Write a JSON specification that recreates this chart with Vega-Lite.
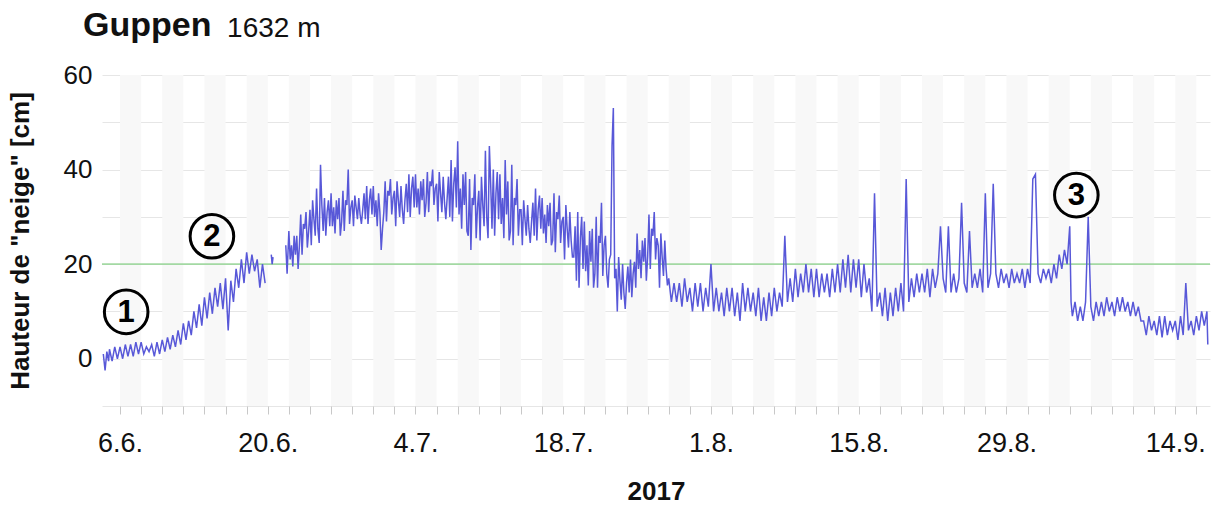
{
  "$schema": "https://vega.github.io/schema/vega-lite/v6.json",
  "width": 1108,
  "height": 331,
  "autosize": "none",
  "padding": {"left": 102, "top": 75, "right": 21, "bottom": 99},
  "background": "white",
  "config": {"font": "Liberation Sans", "view": {"stroke": null}},
  "title": {"text": "Guppen", "anchor": "start", "frame": "group", "fontSize": 34, "fontWeight": "bold", "color": "#111111", "dx": -19, "offset": -55, "baseline": "alphabetic"},
  "resolve": {"axis": {"x": "independent"}},
  "datasets": {
    "snow": [
      {"t":"2017-06-04T10:00","v":1},{"t":"2017-06-04T14:00","v":-2.5},{"t":"2017-06-04T18:00","v":1.5},{"t":"2017-06-04T22:00","v":-0.5},
      {"t":"2017-06-05T00:00","v":2},{"t":"2017-06-05T06:00","v":-0.5},{"t":"2017-06-05T12:00","v":2.5},{"t":"2017-06-05T18:00","v":0},
      {"t":"2017-06-06T00:00","v":2.5},{"t":"2017-06-06T06:00","v":0},{"t":"2017-06-06T12:00","v":3},{"t":"2017-06-06T18:00","v":0.5},
      {"t":"2017-06-07T00:00","v":3},{"t":"2017-06-07T06:00","v":0.5},{"t":"2017-06-07T12:00","v":3.5},{"t":"2017-06-07T18:00","v":1},
      {"t":"2017-06-08T00:00","v":3.5},{"t":"2017-06-08T06:00","v":1},{"t":"2017-06-08T12:00","v":2.5},{"t":"2017-06-08T18:00","v":1.5},
      {"t":"2017-06-09T00:00","v":3},{"t":"2017-06-09T06:00","v":0.5},{"t":"2017-06-09T12:00","v":3.5},{"t":"2017-06-09T18:00","v":1},
      {"t":"2017-06-10T00:00","v":4},{"t":"2017-06-10T06:00","v":1.5},{"t":"2017-06-10T12:00","v":4.5},{"t":"2017-06-10T18:00","v":2},
      {"t":"2017-06-11T00:00","v":5},{"t":"2017-06-11T06:00","v":2.5},{"t":"2017-06-11T12:00","v":6},{"t":"2017-06-11T18:00","v":3},
      {"t":"2017-06-12T00:00","v":7.5},{"t":"2017-06-12T06:00","v":4},{"t":"2017-06-12T12:00","v":8},{"t":"2017-06-12T18:00","v":5},
      {"t":"2017-06-13T00:00","v":10},{"t":"2017-06-13T06:00","v":6.5},{"t":"2017-06-13T12:00","v":11.5},{"t":"2017-06-13T18:00","v":7},
      {"t":"2017-06-14T00:00","v":13},{"t":"2017-06-14T06:00","v":8.5},{"t":"2017-06-14T12:00","v":14},{"t":"2017-06-14T18:00","v":9.5},
      {"t":"2017-06-15T00:00","v":15},{"t":"2017-06-15T06:00","v":11},{"t":"2017-06-15T12:00","v":16},{"t":"2017-06-15T18:00","v":10.5},
      {"t":"2017-06-16T00:00","v":17},{"t":"2017-06-16T06:00","v":6},{"t":"2017-06-16T12:00","v":16.5},{"t":"2017-06-16T18:00","v":12},
      {"t":"2017-06-17T00:00","v":19},{"t":"2017-06-17T06:00","v":15},{"t":"2017-06-17T12:00","v":21},{"t":"2017-06-17T18:00","v":16},
      {"t":"2017-06-18T00:00","v":22.5},{"t":"2017-06-18T06:00","v":18},{"t":"2017-06-18T12:00","v":22},{"t":"2017-06-18T18:00","v":18.5},
      {"t":"2017-06-19T00:00","v":21},{"t":"2017-06-19T06:00","v":15},{"t":"2017-06-19T12:00","v":20},{"t":"2017-06-19T18:00","v":16},
      {"t":"2017-06-20T00:00","v":null},{"t":"2017-06-20T08:00","v":22},{"t":"2017-06-20T10:00","v":20},{"t":"2017-06-20T12:00","v":21.5},{"t":"2017-06-20T14:00","v":null},
      {"t":"2017-06-21T17:00","v":24},{"t":"2017-06-21T20:00","v":18},
      {"t":"2017-06-22T00:00","v":27},{"t":"2017-06-22T03:00","v":21},{"t":"2017-06-22T06:00","v":24},{"t":"2017-06-22T09:00","v":19.5},{"t":"2017-06-22T12:00","v":26},{"t":"2017-06-22T15:00","v":22},{"t":"2017-06-22T18:00","v":26},{"t":"2017-06-22T21:00","v":19},
      {"t":"2017-06-23T00:00","v":24},{"t":"2017-06-23T03:00","v":30.5},{"t":"2017-06-23T06:00","v":22},{"t":"2017-06-23T09:00","v":28.5},{"t":"2017-06-23T12:00","v":27.5},{"t":"2017-06-23T15:00","v":31},{"t":"2017-06-23T18:00","v":23.5},{"t":"2017-06-23T21:00","v":27},
      {"t":"2017-06-24T00:00","v":31.5},{"t":"2017-06-24T03:00","v":24},{"t":"2017-06-24T06:00","v":33.5},{"t":"2017-06-24T09:00","v":29.5},{"t":"2017-06-24T12:00","v":26},{"t":"2017-06-24T15:00","v":36},{"t":"2017-06-24T18:00","v":27.5},{"t":"2017-06-24T21:00","v":24.5},
      {"t":"2017-06-25T00:00","v":41},{"t":"2017-06-25T03:00","v":32.5},{"t":"2017-06-25T06:00","v":27},{"t":"2017-06-25T09:00","v":34},{"t":"2017-06-25T12:00","v":26},{"t":"2017-06-25T15:00","v":31},{"t":"2017-06-25T18:00","v":33.5},{"t":"2017-06-25T21:00","v":28},
      {"t":"2017-06-26T00:00","v":35},{"t":"2017-06-26T03:00","v":28},{"t":"2017-06-26T06:00","v":32},{"t":"2017-06-26T09:00","v":26.5},{"t":"2017-06-26T12:00","v":33.5},{"t":"2017-06-26T15:00","v":29.5},{"t":"2017-06-26T18:00","v":34},{"t":"2017-06-26T21:00","v":26},
      {"t":"2017-06-27T00:00","v":29},{"t":"2017-06-27T03:00","v":35.5},{"t":"2017-06-27T06:00","v":27},{"t":"2017-06-27T09:00","v":33.5},{"t":"2017-06-27T12:00","v":32.5},{"t":"2017-06-27T15:00","v":40},{"t":"2017-06-27T18:00","v":28.5},{"t":"2017-06-27T21:00","v":32},
      {"t":"2017-06-28T00:00","v":33.5},{"t":"2017-06-28T03:00","v":28},{"t":"2017-06-28T06:00","v":34.5},{"t":"2017-06-28T09:00","v":32},{"t":"2017-06-28T12:00","v":29.5},{"t":"2017-06-28T15:00","v":34},{"t":"2017-06-28T18:00","v":30.5},{"t":"2017-06-28T21:00","v":28.5},
      {"t":"2017-06-29T00:00","v":31.5},{"t":"2017-06-29T03:00","v":35},{"t":"2017-06-29T06:00","v":29.5},{"t":"2017-06-29T09:00","v":36.5},{"t":"2017-06-29T12:00","v":28.5},{"t":"2017-06-29T15:00","v":33.5},{"t":"2017-06-29T18:00","v":36},{"t":"2017-06-29T21:00","v":30.5},
      {"t":"2017-06-30T00:00","v":36.5},{"t":"2017-06-30T03:00","v":30},{"t":"2017-06-30T06:00","v":33.5},{"t":"2017-06-30T09:00","v":28},{"t":"2017-06-30T12:00","v":35},{"t":"2017-06-30T15:00","v":31},{"t":"2017-06-30T18:00","v":23},{"t":"2017-06-30T21:00","v":27.5},
      {"t":"2017-07-01T00:00","v":31},{"t":"2017-07-01T03:00","v":37.5},{"t":"2017-07-01T06:00","v":29},{"t":"2017-07-01T09:00","v":35.5},{"t":"2017-07-01T12:00","v":34.5},{"t":"2017-07-01T15:00","v":38},{"t":"2017-07-01T18:00","v":30.5},{"t":"2017-07-01T21:00","v":34},
      {"t":"2017-07-02T00:00","v":35.5},{"t":"2017-07-02T03:00","v":28},{"t":"2017-07-02T06:00","v":37.5},{"t":"2017-07-02T09:00","v":33.5},{"t":"2017-07-02T12:00","v":30},{"t":"2017-07-02T15:00","v":36.5},{"t":"2017-07-02T18:00","v":31.5},{"t":"2017-07-02T21:00","v":28.5},
      {"t":"2017-07-03T00:00","v":33.5},{"t":"2017-07-03T03:00","v":37},{"t":"2017-07-03T06:00","v":31},{"t":"2017-07-03T09:00","v":39},{"t":"2017-07-03T12:00","v":30},{"t":"2017-07-03T15:00","v":36},{"t":"2017-07-03T18:00","v":38.5},{"t":"2017-07-03T21:00","v":32},
      {"t":"2017-07-04T00:00","v":39},{"t":"2017-07-04T03:00","v":32},{"t":"2017-07-04T06:00","v":36},{"t":"2017-07-04T09:00","v":30.5},{"t":"2017-07-04T12:00","v":37.5},{"t":"2017-07-04T15:00","v":33.5},{"t":"2017-07-04T18:00","v":38},{"t":"2017-07-04T21:00","v":30},
      {"t":"2017-07-05T00:00","v":33},{"t":"2017-07-05T03:00","v":39.5},{"t":"2017-07-05T06:00","v":31},{"t":"2017-07-05T09:00","v":37.5},{"t":"2017-07-05T12:00","v":36.5},{"t":"2017-07-05T15:00","v":40},{"t":"2017-07-05T18:00","v":32.5},{"t":"2017-07-05T21:00","v":36},
      {"t":"2017-07-06T00:00","v":37},{"t":"2017-07-06T03:00","v":29},{"t":"2017-07-06T06:00","v":39.5},{"t":"2017-07-06T09:00","v":35},{"t":"2017-07-06T12:00","v":31},{"t":"2017-07-06T15:00","v":38.5},{"t":"2017-07-06T18:00","v":33},{"t":"2017-07-06T21:00","v":29.5},
      {"t":"2017-07-07T00:00","v":34},{"t":"2017-07-07T03:00","v":38.5},{"t":"2017-07-07T06:00","v":30},{"t":"2017-07-07T09:00","v":42},{"t":"2017-07-07T12:00","v":29},{"t":"2017-07-07T15:00","v":37},{"t":"2017-07-07T18:00","v":40.5},{"t":"2017-07-07T21:00","v":32},
      {"t":"2017-07-08T00:00","v":46},{"t":"2017-07-08T03:00","v":30.5},{"t":"2017-07-08T06:00","v":36},{"t":"2017-07-08T09:00","v":27.5},{"t":"2017-07-08T12:00","v":39},{"t":"2017-07-08T15:00","v":32.5},{"t":"2017-07-08T18:00","v":39.5},{"t":"2017-07-08T21:00","v":27},
      {"t":"2017-07-09T00:00","v":26},{"t":"2017-07-09T03:00","v":38},{"t":"2017-07-09T06:00","v":23},{"t":"2017-07-09T09:00","v":34},{"t":"2017-07-09T12:00","v":32.5},{"t":"2017-07-09T15:00","v":39},{"t":"2017-07-09T18:00","v":25.5},{"t":"2017-07-09T21:00","v":32},
      {"t":"2017-07-10T00:00","v":35.5},{"t":"2017-07-10T03:00","v":25},{"t":"2017-07-10T06:00","v":38.5},{"t":"2017-07-10T09:00","v":32.5},{"t":"2017-07-10T12:00","v":28},{"t":"2017-07-10T15:00","v":44},{"t":"2017-07-10T18:00","v":30},{"t":"2017-07-10T21:00","v":25.5},
      {"t":"2017-07-11T00:00","v":45},{"t":"2017-07-11T03:00","v":37},{"t":"2017-07-11T06:00","v":27.5},{"t":"2017-07-11T09:00","v":40},{"t":"2017-07-11T12:00","v":26},{"t":"2017-07-11T15:00","v":35},{"t":"2017-07-11T18:00","v":39.5},{"t":"2017-07-11T21:00","v":29.5},
      {"t":"2017-07-12T00:00","v":39},{"t":"2017-07-12T03:00","v":28.5},{"t":"2017-07-12T06:00","v":34},{"t":"2017-07-12T09:00","v":25.5},{"t":"2017-07-12T12:00","v":42},{"t":"2017-07-12T15:00","v":30.5},{"t":"2017-07-12T18:00","v":37.5},{"t":"2017-07-12T21:00","v":25},
      {"t":"2017-07-13T00:00","v":27},{"t":"2017-07-13T03:00","v":41},{"t":"2017-07-13T06:00","v":24},{"t":"2017-07-13T09:00","v":34},{"t":"2017-07-13T12:00","v":32.5},{"t":"2017-07-13T15:00","v":38},{"t":"2017-07-13T18:00","v":26},{"t":"2017-07-13T21:00","v":31.5},
      {"t":"2017-07-14T00:00","v":31.5},{"t":"2017-07-14T03:00","v":24},{"t":"2017-07-14T06:00","v":33.5},{"t":"2017-07-14T09:00","v":29.5},{"t":"2017-07-14T12:00","v":26},{"t":"2017-07-14T15:00","v":32.5},{"t":"2017-07-14T18:00","v":27.5},{"t":"2017-07-14T21:00","v":24.5},
      {"t":"2017-07-15T00:00","v":29},{"t":"2017-07-15T03:00","v":33},{"t":"2017-07-15T06:00","v":26},{"t":"2017-07-15T09:00","v":36},{"t":"2017-07-15T12:00","v":25},{"t":"2017-07-15T15:00","v":31.5},{"t":"2017-07-15T18:00","v":34.5},{"t":"2017-07-15T21:00","v":27.5},
      {"t":"2017-07-16T00:00","v":34},{"t":"2017-07-16T03:00","v":26.5},{"t":"2017-07-16T06:00","v":30.5},{"t":"2017-07-16T09:00","v":24.5},{"t":"2017-07-16T12:00","v":32.5},{"t":"2017-07-16T15:00","v":28},{"t":"2017-07-16T18:00","v":33},{"t":"2017-07-16T21:00","v":24},
      {"t":"2017-07-17T00:00","v":25},{"t":"2017-07-17T03:00","v":35},{"t":"2017-07-17T06:00","v":22.5},{"t":"2017-07-17T09:00","v":31},{"t":"2017-07-17T12:00","v":29.5},{"t":"2017-07-17T15:00","v":34.5},{"t":"2017-07-17T18:00","v":24.5},{"t":"2017-07-17T21:00","v":29},
      {"t":"2017-07-18T00:00","v":30},{"t":"2017-07-18T03:00","v":21},{"t":"2017-07-18T06:00","v":32.5},{"t":"2017-07-18T09:00","v":27.5},{"t":"2017-07-18T12:00","v":23.5},{"t":"2017-07-18T15:00","v":31},{"t":"2017-07-18T18:00","v":25},{"t":"2017-07-18T21:00","v":21.5},
      {"t":"2017-07-19T00:00","v":21.5},{"t":"2017-07-19T03:00","v":28},{"t":"2017-07-19T06:00","v":16.5},{"t":"2017-07-19T09:00","v":31},{"t":"2017-07-19T12:00","v":15},{"t":"2017-07-19T15:00","v":25.5},{"t":"2017-07-19T18:00","v":30},{"t":"2017-07-19T21:00","v":19},
      {"t":"2017-07-20T00:00","v":29},{"t":"2017-07-20T03:00","v":18.5},{"t":"2017-07-20T06:00","v":24},{"t":"2017-07-20T09:00","v":15.5},{"t":"2017-07-20T12:00","v":27},{"t":"2017-07-20T15:00","v":20.5},{"t":"2017-07-20T18:00","v":27.5},{"t":"2017-07-20T21:00","v":15},
      {"t":"2017-07-21T00:00","v":18},{"t":"2017-07-21T03:00","v":30},{"t":"2017-07-21T06:00","v":15},{"t":"2017-07-21T09:00","v":26},{"t":"2017-07-21T12:00","v":24.5},{"t":"2017-07-21T15:00","v":33},{"t":"2017-07-21T18:00","v":17.5},{"t":"2017-07-21T21:00","v":24},
      {"t":"2017-07-22T00:00","v":26},{"t":"2017-07-22T03:00","v":18},{"t":"2017-07-22T06:00","v":15},{"t":"2017-07-22T09:00","v":21},{"t":"2017-07-22T12:00","v":22},{"t":"2017-07-22T15:00","v":45},{"t":"2017-07-22T18:00","v":53},{"t":"2017-07-22T21:00","v":17},
      {"t":"2017-07-23T00:00","v":19},{"t":"2017-07-23T03:00","v":10},{"t":"2017-07-23T06:00","v":21.5},{"t":"2017-07-23T09:00","v":16.5},{"t":"2017-07-23T12:00","v":12.5},{"t":"2017-07-23T15:00","v":20},{"t":"2017-07-23T18:00","v":14},{"t":"2017-07-23T21:00","v":10.5},
      {"t":"2017-07-24T00:00","v":16},{"t":"2017-07-24T03:00","v":19.5},{"t":"2017-07-24T06:00","v":14},{"t":"2017-07-24T09:00","v":21},{"t":"2017-07-24T12:00","v":13},{"t":"2017-07-24T15:00","v":18},{"t":"2017-07-24T18:00","v":20.5},{"t":"2017-07-24T21:00","v":15},
      {"t":"2017-07-25T00:00","v":26.5},{"t":"2017-07-25T03:00","v":19},{"t":"2017-07-25T06:00","v":23},{"t":"2017-07-25T09:00","v":17},{"t":"2017-07-25T12:00","v":25},{"t":"2017-07-25T15:00","v":20.5},{"t":"2017-07-25T18:00","v":25.5},{"t":"2017-07-25T21:00","v":16.5},
      {"t":"2017-07-26T00:00","v":21.5},{"t":"2017-07-26T03:00","v":30.5},{"t":"2017-07-26T06:00","v":19},{"t":"2017-07-26T09:00","v":27.5},{"t":"2017-07-26T12:00","v":26},{"t":"2017-07-26T15:00","v":31},{"t":"2017-07-26T18:00","v":21},{"t":"2017-07-26T21:00","v":25.5},
      {"t":"2017-07-27T00:00","v":24},{"t":"2017-07-27T03:00","v":15},{"t":"2017-07-27T06:00","v":26.5},{"t":"2017-07-27T09:00","v":21.5},{"t":"2017-07-27T12:00","v":17.5},{"t":"2017-07-27T15:00","v":25},{"t":"2017-07-27T18:00","v":19},{"t":"2017-07-27T21:00","v":15.5},
      {"t":"2017-07-28T00:00","v":17},{"t":"2017-07-28T06:00","v":12},{"t":"2017-07-28T12:00","v":16},{"t":"2017-07-28T18:00","v":12},
      {"t":"2017-07-29T00:00","v":16},{"t":"2017-07-29T06:00","v":11},{"t":"2017-07-29T12:00","v":17},{"t":"2017-07-29T18:00","v":12},
      {"t":"2017-07-30T00:00","v":15},{"t":"2017-07-30T06:00","v":10},{"t":"2017-07-30T12:00","v":16},{"t":"2017-07-30T18:00","v":11},
      {"t":"2017-07-31T00:00","v":16},{"t":"2017-07-31T06:00","v":10},{"t":"2017-07-31T12:00","v":15},{"t":"2017-07-31T18:00","v":11},
      {"t":"2017-08-01T00:00","v":20},{"t":"2017-08-01T06:00","v":10},{"t":"2017-08-01T12:00","v":15},{"t":"2017-08-01T18:00","v":10},
      {"t":"2017-08-02T00:00","v":14},{"t":"2017-08-02T06:00","v":9},{"t":"2017-08-02T12:00","v":15},{"t":"2017-08-02T18:00","v":10},
      {"t":"2017-08-03T00:00","v":15},{"t":"2017-08-03T06:00","v":9},{"t":"2017-08-03T12:00","v":14},{"t":"2017-08-03T18:00","v":8},
      {"t":"2017-08-04T00:00","v":16},{"t":"2017-08-04T06:00","v":10},{"t":"2017-08-04T12:00","v":15},{"t":"2017-08-04T18:00","v":10},
      {"t":"2017-08-05T00:00","v":14},{"t":"2017-08-05T06:00","v":9},{"t":"2017-08-05T12:00","v":15},{"t":"2017-08-05T18:00","v":8},
      {"t":"2017-08-06T00:00","v":13},{"t":"2017-08-06T06:00","v":8},{"t":"2017-08-06T12:00","v":14},{"t":"2017-08-06T18:00","v":9},
      {"t":"2017-08-07T00:00","v":15},{"t":"2017-08-07T06:00","v":10},{"t":"2017-08-07T12:00","v":14},{"t":"2017-08-07T18:00","v":11},
      {"t":"2017-08-08T00:00","v":26},{"t":"2017-08-08T06:00","v":12},{"t":"2017-08-08T12:00","v":17},{"t":"2017-08-08T18:00","v":12},
      {"t":"2017-08-09T00:00","v":19},{"t":"2017-08-09T06:00","v":13},{"t":"2017-08-09T12:00","v":18},{"t":"2017-08-09T18:00","v":14},
      {"t":"2017-08-10T00:00","v":20},{"t":"2017-08-10T06:00","v":14},{"t":"2017-08-10T12:00","v":19},{"t":"2017-08-10T18:00","v":13},
      {"t":"2017-08-11T00:00","v":19},{"t":"2017-08-11T06:00","v":13},{"t":"2017-08-11T12:00","v":18},{"t":"2017-08-11T18:00","v":14},
      {"t":"2017-08-12T00:00","v":18},{"t":"2017-08-12T06:00","v":13},{"t":"2017-08-12T12:00","v":19},{"t":"2017-08-12T18:00","v":14},
      {"t":"2017-08-13T00:00","v":20},{"t":"2017-08-13T06:00","v":14},{"t":"2017-08-13T12:00","v":21},{"t":"2017-08-13T18:00","v":15},
      {"t":"2017-08-14T00:00","v":22},{"t":"2017-08-14T06:00","v":14},{"t":"2017-08-14T12:00","v":21},{"t":"2017-08-14T18:00","v":15},
      {"t":"2017-08-15T00:00","v":21},{"t":"2017-08-15T06:00","v":13},{"t":"2017-08-15T12:00","v":20},{"t":"2017-08-15T18:00","v":14},
      {"t":"2017-08-16T00:00","v":17},{"t":"2017-08-16T06:00","v":10},{"t":"2017-08-16T12:00","v":35},{"t":"2017-08-16T18:00","v":11},
      {"t":"2017-08-17T00:00","v":14},{"t":"2017-08-17T06:00","v":9},{"t":"2017-08-17T12:00","v":15},{"t":"2017-08-17T18:00","v":8},
      {"t":"2017-08-18T00:00","v":14},{"t":"2017-08-18T06:00","v":9},{"t":"2017-08-18T12:00","v":15},{"t":"2017-08-18T18:00","v":10},
      {"t":"2017-08-19T00:00","v":16},{"t":"2017-08-19T06:00","v":10},{"t":"2017-08-19T12:00","v":38},{"t":"2017-08-19T18:00","v":12},
      {"t":"2017-08-20T00:00","v":17},{"t":"2017-08-20T06:00","v":13},{"t":"2017-08-20T12:00","v":18},{"t":"2017-08-20T18:00","v":14},
      {"t":"2017-08-21T00:00","v":18},{"t":"2017-08-21T06:00","v":14},{"t":"2017-08-21T12:00","v":19},{"t":"2017-08-21T18:00","v":13},
      {"t":"2017-08-22T00:00","v":19},{"t":"2017-08-22T06:00","v":15},{"t":"2017-08-22T12:00","v":18},{"t":"2017-08-22T18:00","v":28},
      {"t":"2017-08-23T00:00","v":17},{"t":"2017-08-23T06:00","v":14},{"t":"2017-08-23T12:00","v":28},{"t":"2017-08-23T18:00","v":14},
      {"t":"2017-08-24T00:00","v":18},{"t":"2017-08-24T06:00","v":14},{"t":"2017-08-24T12:00","v":17},{"t":"2017-08-24T18:00","v":33},
      {"t":"2017-08-25T00:00","v":16},{"t":"2017-08-25T06:00","v":14},{"t":"2017-08-25T12:00","v":27},{"t":"2017-08-25T18:00","v":15},
      {"t":"2017-08-26T00:00","v":18},{"t":"2017-08-26T06:00","v":15},{"t":"2017-08-26T12:00","v":19},{"t":"2017-08-26T18:00","v":14},
      {"t":"2017-08-27T00:00","v":35},{"t":"2017-08-27T06:00","v":15},{"t":"2017-08-27T12:00","v":18},{"t":"2017-08-27T18:00","v":37},
      {"t":"2017-08-28T00:00","v":18},{"t":"2017-08-28T06:00","v":15},{"t":"2017-08-28T12:00","v":19},{"t":"2017-08-28T18:00","v":16},
      {"t":"2017-08-29T00:00","v":18},{"t":"2017-08-29T06:00","v":15},{"t":"2017-08-29T12:00","v":19},{"t":"2017-08-29T18:00","v":16},
      {"t":"2017-08-30T00:00","v":18},{"t":"2017-08-30T06:00","v":16},{"t":"2017-08-30T12:00","v":19},{"t":"2017-08-30T18:00","v":15},
      {"t":"2017-08-31T00:00","v":19},{"t":"2017-08-31T06:00","v":16},{"t":"2017-08-31T12:00","v":38},{"t":"2017-08-31T18:00","v":39},
      {"t":"2017-09-01T00:00","v":18},{"t":"2017-09-01T06:00","v":16},{"t":"2017-09-01T12:00","v":19},{"t":"2017-09-01T18:00","v":17},
      {"t":"2017-09-02T00:00","v":19},{"t":"2017-09-02T06:00","v":16},{"t":"2017-09-02T12:00","v":20},{"t":"2017-09-02T18:00","v":17},
      {"t":"2017-09-03T00:00","v":22},{"t":"2017-09-03T06:00","v":19},{"t":"2017-09-03T12:00","v":23},{"t":"2017-09-03T18:00","v":20},
      {"t":"2017-09-04T00:00","v":28},{"t":"2017-09-04T03:00","v":12},{"t":"2017-09-04T06:00","v":9},{"t":"2017-09-04T12:00","v":12},{"t":"2017-09-04T18:00","v":8},
      {"t":"2017-09-05T00:00","v":11},{"t":"2017-09-05T06:00","v":8},{"t":"2017-09-05T12:00","v":12},{"t":"2017-09-05T18:00","v":30},
      {"t":"2017-09-06T00:00","v":11},{"t":"2017-09-06T06:00","v":8},{"t":"2017-09-06T12:00","v":12},{"t":"2017-09-06T18:00","v":9},
      {"t":"2017-09-07T00:00","v":12},{"t":"2017-09-07T06:00","v":9},{"t":"2017-09-07T12:00","v":13},{"t":"2017-09-07T18:00","v":10},
      {"t":"2017-09-08T00:00","v":12},{"t":"2017-09-08T06:00","v":9},{"t":"2017-09-08T12:00","v":13},{"t":"2017-09-08T18:00","v":10},
      {"t":"2017-09-09T00:00","v":13},{"t":"2017-09-09T06:00","v":10},{"t":"2017-09-09T12:00","v":12},{"t":"2017-09-09T18:00","v":9},
      {"t":"2017-09-10T00:00","v":12},{"t":"2017-09-10T06:00","v":9},{"t":"2017-09-10T12:00","v":11},{"t":"2017-09-10T18:00","v":8},
      {"t":"2017-09-11T00:00","v":8},{"t":"2017-09-11T06:00","v":5},{"t":"2017-09-11T12:00","v":9},{"t":"2017-09-11T18:00","v":6},
      {"t":"2017-09-12T00:00","v":8},{"t":"2017-09-12T06:00","v":5},{"t":"2017-09-12T12:00","v":9},{"t":"2017-09-12T18:00","v":4.5},
      {"t":"2017-09-13T00:00","v":9},{"t":"2017-09-13T06:00","v":5},{"t":"2017-09-13T12:00","v":8},{"t":"2017-09-13T18:00","v":6},
      {"t":"2017-09-14T00:00","v":8},{"t":"2017-09-14T06:00","v":4},{"t":"2017-09-14T12:00","v":9},{"t":"2017-09-14T18:00","v":5},
      {"t":"2017-09-15T00:00","v":16},{"t":"2017-09-15T06:00","v":6},{"t":"2017-09-15T12:00","v":8},{"t":"2017-09-15T18:00","v":5},
      {"t":"2017-09-16T00:00","v":9},{"t":"2017-09-16T06:00","v":6},{"t":"2017-09-16T12:00","v":10},{"t":"2017-09-16T18:00","v":7},
      {"t":"2017-09-17T00:00","v":10},{"t":"2017-09-17T02:00","v":3}
    ],
    "stripes": [
      {"s":"2017-06-06T00:00","e":"2017-06-08T00:00"},{"s":"2017-06-10T00:00","e":"2017-06-12T00:00"},{"s":"2017-06-14T00:00","e":"2017-06-16T00:00"},
      {"s":"2017-06-18T00:00","e":"2017-06-20T00:00"},{"s":"2017-06-22T00:00","e":"2017-06-24T00:00"},{"s":"2017-06-26T00:00","e":"2017-06-28T00:00"},
      {"s":"2017-06-30T00:00","e":"2017-07-02T00:00"},{"s":"2017-07-04T00:00","e":"2017-07-06T00:00"},{"s":"2017-07-08T00:00","e":"2017-07-10T00:00"},
      {"s":"2017-07-12T00:00","e":"2017-07-14T00:00"},{"s":"2017-07-16T00:00","e":"2017-07-18T00:00"},{"s":"2017-07-20T00:00","e":"2017-07-22T00:00"},
      {"s":"2017-07-24T00:00","e":"2017-07-26T00:00"},{"s":"2017-07-28T00:00","e":"2017-07-30T00:00"},{"s":"2017-08-01T00:00","e":"2017-08-03T00:00"},
      {"s":"2017-08-05T00:00","e":"2017-08-07T00:00"},{"s":"2017-08-09T00:00","e":"2017-08-11T00:00"},{"s":"2017-08-13T00:00","e":"2017-08-15T00:00"},
      {"s":"2017-08-17T00:00","e":"2017-08-19T00:00"},{"s":"2017-08-21T00:00","e":"2017-08-23T00:00"},{"s":"2017-08-25T00:00","e":"2017-08-27T00:00"},
      {"s":"2017-08-29T00:00","e":"2017-08-31T00:00"},{"s":"2017-09-02T00:00","e":"2017-09-04T00:00"},{"s":"2017-09-06T00:00","e":"2017-09-08T00:00"},
      {"s":"2017-09-10T00:00","e":"2017-09-12T00:00"},{"s":"2017-09-14T00:00","e":"2017-09-16T00:00"}
    ],
    "marks": [
      {"t":"2017-06-06T14:00","v":9.9,"n":"1"},
      {"t":"2017-06-14T17:00","v":25.9,"n":"2"},
      {"t":"2017-09-04T15:00","v":34.6,"n":"3"}
    ],
    "elev": [{"t":"2017-06-16T03:30","v":68,"label":"1632 m"}]
  },
  "layer": [
    {
      "data": {"name": "stripes"},
      "mark": {"type": "rect", "color": "#f8f8f8", "clip": true},
      "encoding": {
        "x": {"field": "s", "type": "temporal",
          "scale": {"domain": [{"year":2017,"month":6,"date":4,"hours":7},{"year":2017,"month":9,"date":17,"hours":7}]},
          "axis": {
            "orient": "bottom",
            "title": null,
            "labels": false,
            "grid": false,
            "domain": false,
            "tickColor": "#c8c8c8",
            "tickSize": 8,
            "values": [
              {"year":2017,"month":6,"date":6},{"year":2017,"month":6,"date":8},{"year":2017,"month":6,"date":10},{"year":2017,"month":6,"date":12},{"year":2017,"month":6,"date":14},{"year":2017,"month":6,"date":16},{"year":2017,"month":6,"date":18},{"year":2017,"month":6,"date":20},{"year":2017,"month":6,"date":22},{"year":2017,"month":6,"date":24},{"year":2017,"month":6,"date":26},{"year":2017,"month":6,"date":28},{"year":2017,"month":6,"date":30},
              {"year":2017,"month":7,"date":2},{"year":2017,"month":7,"date":4},{"year":2017,"month":7,"date":6},{"year":2017,"month":7,"date":8},{"year":2017,"month":7,"date":10},{"year":2017,"month":7,"date":12},{"year":2017,"month":7,"date":14},{"year":2017,"month":7,"date":16},{"year":2017,"month":7,"date":18},{"year":2017,"month":7,"date":20},{"year":2017,"month":7,"date":22},{"year":2017,"month":7,"date":24},{"year":2017,"month":7,"date":26},{"year":2017,"month":7,"date":28},{"year":2017,"month":7,"date":30},
              {"year":2017,"month":8,"date":1},{"year":2017,"month":8,"date":3},{"year":2017,"month":8,"date":5},{"year":2017,"month":8,"date":7},{"year":2017,"month":8,"date":9},{"year":2017,"month":8,"date":11},{"year":2017,"month":8,"date":13},{"year":2017,"month":8,"date":15},{"year":2017,"month":8,"date":17},{"year":2017,"month":8,"date":19},{"year":2017,"month":8,"date":21},{"year":2017,"month":8,"date":23},{"year":2017,"month":8,"date":25},{"year":2017,"month":8,"date":27},{"year":2017,"month":8,"date":29},{"year":2017,"month":8,"date":31},
              {"year":2017,"month":9,"date":2},{"year":2017,"month":9,"date":4},{"year":2017,"month":9,"date":6},{"year":2017,"month":9,"date":8},{"year":2017,"month":9,"date":10},{"year":2017,"month":9,"date":12},{"year":2017,"month":9,"date":14},{"year":2017,"month":9,"date":16}
            ]
          }
        },
        "x2": {"field": "e"}
      }
    },
    {
      "data": {"values": [{"v": 20}]},
      "mark": {"type": "rule", "color": "#a3d9a3", "strokeWidth": 1.6},
      "encoding": {
        "y": {"field": "v", "type": "quantitative", "title": "Hauteur de \"neige\" [cm]", "scale": {"domain": [-10, 60], "nice": false, "zero": false}}
      }
    },
    {
      "data": {"name": "snow"},
      "mark": {"type": "line", "color": "#5858d8", "strokeWidth": 1.5, "invalid": "break-paths-show-domains"},
      "encoding": {
        "x": {"field": "t", "type": "temporal",
          "scale": {"domain": [{"year":2017,"month":6,"date":4,"hours":7},{"year":2017,"month":9,"date":17,"hours":7}]},
          "axis": {
            "orient": "bottom",
            "title": "2017",
            "values": [
              {"year":2017,"month":6,"date":6},{"year":2017,"month":6,"date":20},{"year":2017,"month":7,"date":4},{"year":2017,"month":7,"date":18},
              {"year":2017,"month":8,"date":1},{"year":2017,"month":8,"date":15},{"year":2017,"month":8,"date":29},{"year":2017,"month":9,"date":14}
            ],
            "format": "%-d.%-m.",
            "labelOverlap": false,
            "labelFlush": false,
            "grid": false,
            "domain": false,
            "ticks": false,
            "labelFontSize": 27,
            "labelColor": "#111111",
            "labelPadding": 24,
            "titleFontSize": 26,
            "titleFontWeight": "bold",
            "titleColor": "#111111",
            "titlePadding": 22
          }
        },
        "y": {"field": "v", "type": "quantitative", "title": "Hauteur de \"neige\" [cm]",
          "scale": {"domain": [-10, 60], "nice": false, "zero": false},
          "axis": {
            "values": [-10, 0, 10, 20, 30, 40, 50, 60],
            "labelExpr": "datum.value >= 0 && datum.value % 20 == 0 ? datum.label : ''",
            "grid": true,
            "gridColor": "#e6e6e6",
            "domain": false,
            "ticks": false,
            "labelFontSize": 26,
            "labelColor": "#111111",
            "labelPadding": 10,
            "titleFontSize": 26,
            "titleFontWeight": "bold",
            "titleColor": "#111111",
            "titlePadding": 30
          }
        }
      }
    },
    {
      "data": {"name": "marks"},
      "mark": {"type": "point", "shape": "circle", "filled": false, "stroke": "#000000", "strokeWidth": 3, "size": 1900, "opacity": 1},
      "encoding": {
        "x": {"field": "t", "type": "temporal", "axis": null},
        "y": {"field": "v", "type": "quantitative", "title": "Hauteur de \"neige\" [cm]"}
      }
    },
    {
      "data": {"name": "marks"},
      "mark": {"type": "text", "fontSize": 31, "fontWeight": "bold", "color": "#000000", "baseline": "middle", "align": "center", "dy": 1},
      "encoding": {
        "x": {"field": "t", "type": "temporal", "axis": null},
        "y": {"field": "v", "type": "quantitative", "title": "Hauteur de \"neige\" [cm]"},
        "text": {"field": "n"}
      }
    },
    {
      "data": {"name": "elev"},
      "mark": {"type": "text", "fontSize": 28, "color": "#111111", "baseline": "alphabetic", "align": "left"},
      "encoding": {
        "x": {"field": "t", "type": "temporal", "axis": null},
        "y": {"field": "v", "type": "quantitative", "title": "Hauteur de \"neige\" [cm]"},
        "text": {"field": "label"}
      }
    }
  ]
}
